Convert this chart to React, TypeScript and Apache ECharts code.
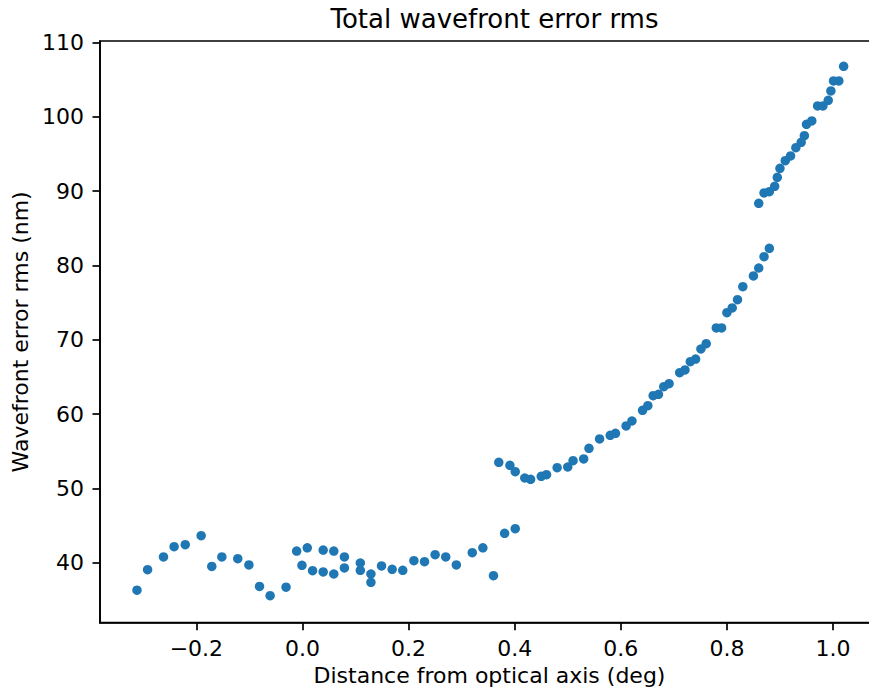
import React, { useEffect, useRef } from "react";
import * as echarts from "echarts";

const titleText = "Total wavefront error rms";
const xLabel = "Distance from optical axis (deg)";
const yLabel = "Wavefront error rms (nm)";

const xTicks = [-0.2, 0.0, 0.2, 0.4, 0.6, 0.8, 1.0];
const yTicks = [40, 50, 60, 70, 80, 90, 100, 110];

const xs = [
  -0.312, -0.292, -0.262, -0.242, -0.221, -0.191, -0.171, -0.152, -0.122, -0.101,
  -0.081, -0.061, -0.031, -0.011, -0.001, 0.009, 0.019, 0.039, 0.039, 0.059,
  0.059, 0.079, 0.079, 0.109, 0.109, 0.129, 0.129, 0.149, 0.169, 0.189,
  0.21, 0.23, 0.25, 0.27, 0.29, 0.32, 0.34, 0.36, 0.37, 0.381,
  0.391, 0.401, 0.401, 0.419, 0.43, 0.45, 0.46, 0.48, 0.5, 0.51,
  0.53, 0.54, 0.56, 0.58, 0.59, 0.61, 0.621, 0.641, 0.651, 0.661,
  0.671, 0.681, 0.691, 0.711, 0.721, 0.731, 0.741, 0.751, 0.761, 0.78,
  0.79, 0.8, 0.81, 0.82, 0.83, 0.85, 0.86, 0.87, 0.88, 0.86,
  0.87, 0.88, 0.89, 0.895, 0.9, 0.91, 0.92, 0.93, 0.94, 0.946,
  0.95, 0.96, 0.971, 0.981, 0.991, 0.996, 1.001, 1.011, 1.02,
];

const ys = [
  36.3, 39.06, 40.77, 42.15, 42.42, 43.63, 39.5, 40.77, 40.54, 39.7,
  36.8, 35.56, 36.7, 41.57, 39.65, 42.0, 38.92, 41.7, 38.75, 41.57,
  38.48, 40.77, 39.29, 39.96, 38.98, 38.48, 37.36, 39.56, 39.11, 38.98,
  40.27, 40.13, 41.08, 40.77, 39.7, 41.35, 42.0, 38.25, 53.51, 43.96,
  53.1, 44.58, 52.25, 51.4, 51.22, 51.63, 51.84, 52.79, 52.88, 53.73,
  53.96, 55.4, 56.65, 57.15, 57.41, 58.4, 59.07, 60.5, 61.13, 62.48,
  62.66, 63.69, 64.09, 65.57, 65.94, 67.05, 67.41, 68.76, 69.48, 71.59,
  71.59, 73.65, 74.28, 75.4, 77.15, 78.59, 79.66, 81.18, 82.31, 88.37,
  89.76, 89.93, 90.66, 91.87, 93.08, 94.1, 94.74, 95.86, 96.58, 97.47,
  99.0, 99.45, 101.47, 101.47, 102.23, 103.49, 104.83, 104.83, 106.8,
];

const FONT = "DejaVu Sans";

export default function App() {
  const ref = useRef<HTMLDivElement>(null);
  useEffect(() => {
    if (!ref.current) return;
    const chart = echarts.init(ref.current, null, { renderer: "svg" });
    const data = xs.map((x, i) => [x, ys[i]]);
    chart.setOption({
      animation: false,
      backgroundColor: "#ffffff",
      title: {
        text: titleText,
        left: 489.5,
        top: 1,
        textAlign: "center",
        textStyle: { fontFamily: FONT, fontSize: 26, fontWeight: "normal", color: "#000" },
      },
      grid: {
        left: 100,
        top: 41,
        width: 779,
        height: 581.7,
        outerBoundsMode: "none",
        containLabel: false,
        show: true,
        borderColor: "#000",
        borderWidth: 1.7,
        backgroundColor: "transparent",
      },
      xAxis: {
        type: "value",
        min: -0.3817,
        max: 1.0867,
        name: xLabel,
        nameLocation: "middle",
        nameGap: 42,
        nameTextStyle: { fontFamily: FONT, fontSize: 22, color: "#000" },
        axisLine: { show: true, onZero: false, lineStyle: { color: "#000", width: 1.7 } },
        axisTick: { show: true, customValues: xTicks, length: 7.5, lineStyle: { color: "#000", width: 1.7 } },
        axisLabel: {
          customValues: xTicks,
          margin: 15,
          fontFamily: FONT,
          fontSize: 22,
          color: "#000",
          formatter: (v: number) => (v < -1e-9 ? "\u2212" : "") + Math.abs(v).toFixed(1),
        },
        splitLine: { show: false },
      },
      yAxis: {
        type: "value",
        min: 31.925,
        max: 110.21,
        name: yLabel,
        nameLocation: "middle",
        nameGap: 66,
        nameTextStyle: { fontFamily: FONT, fontSize: 22, color: "#000" },
        axisLine: { show: true, onZero: false, lineStyle: { color: "#000", width: 1.7 } },
        axisTick: { show: true, customValues: yTicks, length: 7.5, lineStyle: { color: "#000", width: 1.7 } },
        axisLabel: {
          customValues: yTicks,
          margin: 16,
          fontFamily: FONT,
          fontSize: 22,
          color: "#000",
          formatter: (v: number) => String(Math.round(v)),
        },
        splitLine: { show: false },
      },
      series: [
        {
          type: "scatter",
          data,
          symbol: "circle",
          symbolSize: 9.5,
          itemStyle: { color: "#1f77b4", opacity: 1 },
        },
      ],
    });
    return () => chart.dispose();
  }, []);
  return (
    <div
      ref={ref}
      style={{ position: "fixed", left: 0, top: 0, width: 869, height: 692, background: "#fff" }}
    />
  );
}
